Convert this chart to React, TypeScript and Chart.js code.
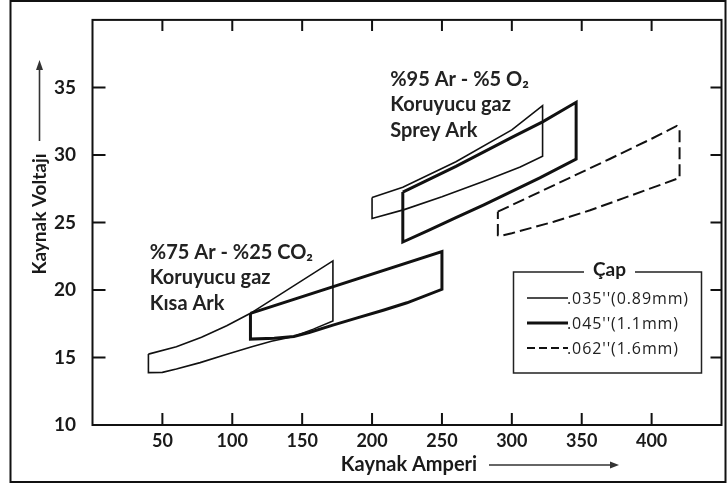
import React, { useEffect, useRef } from 'react';
import { Chart, registerables } from 'chart.js';

Chart.register(...registerables);

// ---- axes ----
const xTickValues = [50, 100, 150, 200, 250, 300, 350, 400];
const yTickValues = [10, 15, 20, 25, 30, 35];
const xTitle = 'Kaynak Amperi';
const yTitle = 'Kaynak Voltajı';

// ---- short arc, %75 Ar - %25 CO2 ----
// .035" (0.89mm)
const shortThinX = [40, 60, 78, 96, 113, 172, 172, 158, 144, 128, 114, 95, 77, 60, 50, 40, 40];
const shortThinY = [15.25, 15.8, 16.5, 17.35, 18.27, 22.15, 17.7, 17.1, 16.55, 16.2, 15.8, 15.2, 14.62, 14.15, 13.9, 13.88, 15.25];
// .045" (1.1mm)
const shortThickX = [113, 250, 250, 225, 208, 190, 172, 155, 144, 130, 113, 113];
const shortThickY = [18.27, 22.85, 20.05, 19.05, 18.5, 17.95, 17.4, 16.85, 16.55, 16.42, 16.36, 18.27];

// ---- spray arc, %95 Ar - %5 O2 ----
// .035" (0.89mm)
const sprayThinX = [200, 222, 260, 300, 322, 322, 306, 280, 250, 223, 200, 200];
const sprayThinY = [26.85, 27.6, 29.5, 31.85, 33.65, 29.9, 29.1, 28.05, 26.9, 25.95, 25.3, 26.85];
// .045" (1.1mm)
const sprayThickX = [222, 260, 300, 322, 346, 346, 320, 300, 280, 260, 240, 222, 222];
const sprayThickY = [27.25, 29.15, 31.3, 32.45, 33.9, 29.7, 28.3, 27.3, 26.3, 25.35, 24.4, 23.55, 27.25];
// .062" (1.6mm)
const sprayDashX = [290, 330, 370, 400, 418, 420, 420, 380, 356, 330, 300, 292, 290, 290];
const sprayDashY = [25.8, 27.75, 29.7, 31.2, 32.15, 31.95, 28.3, 26.8, 25.9, 25.05, 24.2, 24.0, 24.05, 25.8];

// ---- legend / annotations ----
const legendTitle = 'Çap';
const legendLabels = [".035''(0.89mm)", ".045''(1.1mm)", ".062''(1.6mm)"];
const shortArcLines = ['%75 Ar - %25 CO₂', 'Koruyucu gaz', 'Kısa Ark'];
const shortArcAnchor = [41, 22.8];
const sprayArcLines = ['%95 Ar - %5 O₂', 'Koruyucu gaz', 'Sprey Ark'];
const sprayArcAnchor = [213, 35.6];

const FONT = 'Lato, "Open Sans", sans-serif';
const LEGEND_FONT = '"Open Sans", sans-serif';
const INK = '#1a1a1a';

const pts = (xs: number[], ys: number[]) => xs.map((x, i) => ({ x, y: ys[i] }));

export default function App() {
  const ref = useRef<HTMLCanvasElement>(null);

  useEffect(() => {
    const canvas = ref.current!;

    const decor = {
      id: 'decor',
      afterDraw(chart: any) {
        const { ctx, chartArea: a, scales } = chart;
        const sx = scales.x;
        const sy = scales.y;
        ctx.save();
        ctx.strokeStyle = '#111';
        ctx.fillStyle = INK;
        ctx.setLineDash([]);

        // outer border
        ctx.lineWidth = 2;
        ctx.strokeRect(10.5, 1, 715, 481);

        // plot frame
        ctx.lineWidth = 2;
        ctx.strokeRect(a.left, a.top, a.right - a.left, a.bottom - a.top);

        // inward ticks
        ctx.beginPath();
        xTickValues.forEach((v) => {
          const px = sx.getPixelForValue(v);
          ctx.moveTo(px, a.bottom);
          ctx.lineTo(px, a.bottom - 12);
          ctx.moveTo(px, a.top);
          ctx.lineTo(px, a.top + 11);
        });
        yTickValues.slice(1).forEach((v) => {
          const py = sy.getPixelForValue(v);
          ctx.moveTo(a.left, py);
          ctx.lineTo(a.left + 13, py);
          ctx.moveTo(a.right, py);
          ctx.lineTo(a.right - 11, py);
        });
        ctx.stroke();

        // axis titles with arrows
        ctx.font = `bold 20px ${FONT}`;
        ctx.textAlign = 'center';
        ctx.textBaseline = 'middle';
        ctx.fillText(xTitle, 409, 465);
        ctx.strokeStyle = '#333';
        ctx.fillStyle = '#333';
        ctx.lineWidth = 1.6;
        ctx.beginPath();
        ctx.moveTo(489, 465);
        ctx.lineTo(612, 465);
        ctx.stroke();
        ctx.beginPath();
        ctx.moveTo(619, 465);
        ctx.lineTo(610, 461.5);
        ctx.lineTo(610, 468.5);
        ctx.closePath();
        ctx.fill();

        ctx.save();
        ctx.translate(40, 214);
        ctx.rotate(-Math.PI / 2);
        ctx.fillStyle = INK;
        ctx.font = `bold 19px ${FONT}`;
        ctx.fillText(yTitle, 0, 0);
        ctx.restore();
        ctx.beginPath();
        ctx.moveTo(39.5, 141);
        ctx.lineTo(39.5, 68);
        ctx.stroke();
        ctx.beginPath();
        ctx.moveTo(39.5, 60);
        ctx.lineTo(36, 70);
        ctx.lineTo(43, 70);
        ctx.closePath();
        ctx.fill();

        // annotations
        ctx.fillStyle = '#222';
        ctx.textAlign = 'left';
        ctx.font = `bold 20px ${FONT}`;
        const drawLines = (lines: string[], anchor: number[]) => {
          const x0 = sx.getPixelForValue(anchor[0]);
          const y0 = sy.getPixelForValue(anchor[1]);
          lines.forEach((t, i) => ctx.fillText(t, x0, y0 + i * 25.5));
        };
        drawLines(sprayArcLines, sprayArcAnchor);
        drawLines(shortArcLines, shortArcAnchor);

        // legend
        const lx = 513.5, ly = 272, lw = 188, lh = 101;
        ctx.strokeStyle = '#222';
        ctx.lineWidth = 1.5;
        ctx.beginPath();
        ctx.moveTo(584, ly);
        ctx.lineTo(lx, ly);
        ctx.lineTo(lx, ly + lh);
        ctx.lineTo(lx + lw, ly + lh);
        ctx.lineTo(lx + lw, ly);
        ctx.lineTo(635, ly);
        ctx.stroke();
        ctx.fillStyle = INK;
        ctx.textAlign = 'center';
        ctx.font = `bold 19px ${FONT}`;
        ctx.fillText(legendTitle, 609.5, 270);

        const ds = chart.data.datasets;
        const styles = [ds[0], ds[1], ds[4]];
        legendLabels.forEach((lab, i) => {
          const y = 298 + i * 25;
          const st: any = styles[i];
          ctx.strokeStyle = '#111';
          ctx.lineWidth = st.borderWidth;
          ctx.setLineDash(st.borderDash && st.borderDash.length ? [8, 4] : []);
          ctx.beginPath();
          ctx.moveTo(527, y);
          ctx.lineTo(568, y);
          ctx.stroke();
          ctx.setLineDash([]);
          ctx.fillStyle = '#222';
          ctx.textAlign = 'left';
          ctx.font = `16px ${LEGEND_FONT}`;
          (ctx as any).letterSpacing = '0.9px';
          ctx.fillText(lab, 567, y + 1);
          (ctx as any).letterSpacing = '0px';
        });

        ctx.restore();
      },
    };

    const line = (label: string, data: any[], width: number, dash?: number[]) => ({
      label,
      data,
      showLine: true,
      fill: false,
      borderColor: '#111',
      backgroundColor: '#111',
      borderWidth: width,
      borderDash: dash || [],
      pointRadius: 0,
      tension: 0,
      borderJoinStyle: 'miter',
    });

    const chart = new Chart(canvas, {
      type: 'scatter',
      data: {
        datasets: [
          line(legendLabels[0], pts(shortThinX, shortThinY), 1.6),
          line(legendLabels[1], pts(shortThickX, shortThickY), 3),
          line(legendLabels[0], pts(sprayThinX, sprayThinY), 1.6),
          line(legendLabels[1], pts(sprayThickX, sprayThickY), 3),
          line(legendLabels[2], pts(sprayDashX, sprayDashY), 2, [12, 5]),
        ] as any,
      },
      options: {
        animation: false,
        responsive: false,
        layout: { padding: { left: 0, top: 7.5, right: 5.5, bottom: 0 } },
        plugins: { legend: { display: false }, tooltip: { enabled: false } },
        scales: {
          x: {
            type: 'linear',
            min: 0,
            max: 450,
            grid: { display: false },
            border: { display: false },
            afterFit: (s: any) => { s.height = 61; },
            afterBuildTicks: (s: any) => { s.ticks = xTickValues.map((v) => ({ value: v })); },
            ticks: {
              padding: -3,
              color: INK,
              font: { family: FONT, size: 18, weight: 'bold' },
              maxRotation: 0,
              autoSkip: false,
            },
          },
          y: {
            type: 'linear',
            min: 10,
            max: 40,
            grid: { display: false },
            border: { display: false },
            afterFit: (s: any) => { s.width = 92.5; },
            afterBuildTicks: (s: any) => { s.ticks = yTickValues.map((v) => ({ value: v })); },
            ticks: {
              padding: 8.5,
              color: INK,
              font: { family: FONT, size: 19, weight: 'bold' },
              autoSkip: false,
            },
          },
        },
      } as any,
      plugins: [decor],
    });

    return () => chart.destroy();
  }, []);

  return (
    <div style={{ position: 'fixed', left: 0, top: 0, width: 727, height: 486, background: '#fff' }}>
      <canvas ref={ref} width={727} height={486} style={{ display: 'block', width: 727, height: 486 }} />
    </div>
  );
}
